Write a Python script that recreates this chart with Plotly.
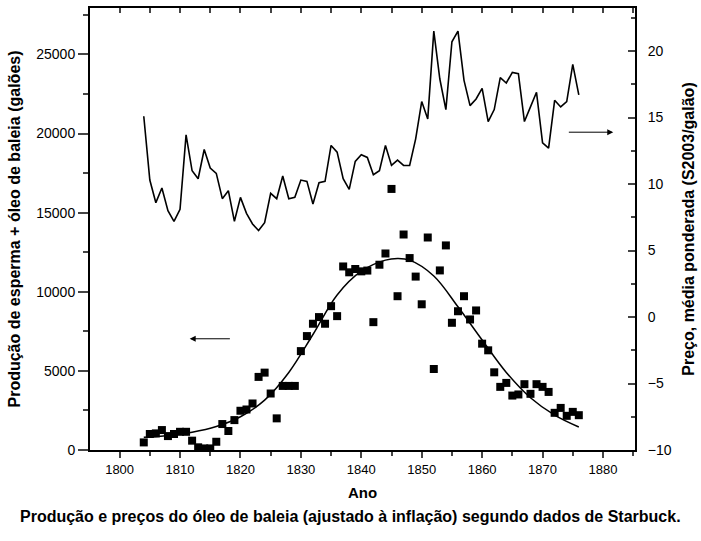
import plotly.graph_objects as go

years = list(range(1804, 1877))

production = [480, 1010, 1050, 1260, 880, 1010, 1150, 1150, 590, 170,
              100, 100, 520, 1640, 1200, 1890, 2480, 2560, 2940, 4620,
              4890, 3570, 2000, 4050, 4050, 4050, 6250, 7200, 7980, 8400,
              7980, 9090, 8460, 11600, 11230, 11440, 11290, 11340, 8080, 11710,
              12420, 16500, 9720, 13620, 12130, 10960, 9210, 13430, 5120, 11350,
              12930, 8040, 8770, 9720, 8250, 8820, 6720, 6300, 4910, 3990,
              4240, 3440, 3510, 4160, 3550, 4160, 3990, 3670, 2350, 2660,
              2160, 2410, 2200]

price = [15.1, 10.3, 8.6, 9.7, 8.0, 7.2, 8.1, 13.7, 11.0, 10.4,
         12.6, 11.2, 10.8, 8.9, 9.5, 7.2, 9.0, 7.8, 7.0, 6.5,
         7.1, 9.3, 8.9, 10.6, 8.9, 9.0, 10.3, 10.2, 8.5, 10.1,
         10.2, 12.9, 12.4, 10.4, 9.6, 11.7, 12.2, 12.0, 10.7, 11.0,
         12.9, 11.4, 11.8, 11.4, 11.4, 13.4, 16.2, 14.9, 21.5, 17.9,
         15.6, 20.7, 21.5, 17.8, 15.9, 16.4, 17.2, 14.7, 15.6, 18.0,
         17.6, 18.4, 18.3, 14.7, 15.8, 16.9, 13.1, 12.7, 16.3, 15.8,
         16.2, 19.0, 16.7]

fit_years = [1804, 1808, 1812, 1816, 1820, 1824, 1828, 1832, 1836, 1840,
             1844, 1846, 1848, 1852, 1856, 1860, 1864, 1868, 1872, 1876]
fit_values = [800, 920, 1120, 1480, 2100, 3150, 4900, 7300, 9800, 11300,
              12000, 12100, 12000, 11000, 9050, 6950, 4900, 3300, 2200, 1450]

x_tick_vals = [1800, 1810, 1820, 1830, 1840, 1850, 1860, 1870, 1880]
y_left_ticks = [0, 5000, 10000, 15000, 20000, 25000]
y_left_labels = ["0", "5000", "10000", "15000", "20000", "25000"]
y_right_ticks = [-10, -5, 0, 5, 10, 15, 20]

FONT = "Arial"
fig = go.Figure()

fig.add_trace(go.Scatter(x=fit_years, y=fit_values, mode="lines",
                         line=dict(color="black", width=1.5, shape="spline", smoothing=1.0),
                         xaxis="x", yaxis="y", showlegend=False))
fig.add_trace(go.Scatter(x=years, y=production, mode="markers",
                         marker=dict(symbol="square", size=8, color="black"),
                         xaxis="x", yaxis="y", showlegend=False))
fig.add_trace(go.Scatter(x=years, y=price, mode="lines",
                         line=dict(color="black", width=1.6),
                         xaxis="x", yaxis="y2", showlegend=False))
# invisible trace to make the top tick axis render
fig.add_trace(go.Scatter(x=[years[0]], y=[production[0]], mode="markers",
                         marker=dict(opacity=0), xaxis="x2", yaxis="y",
                         showlegend=False, hoverinfo="skip"))

xr = [1795.1, 1885.3]
fig.update_layout(
    width=701, height=541,
    margin=dict(l=90, r=66, t=6, b=91),
    paper_bgcolor="white", plot_bgcolor="white",
    font=dict(family=FONT, size=13, color="black"),
    xaxis=dict(range=xr, tickvals=x_tick_vals, ticks="outside", ticklen=6, tickwidth=1.5,
               showline=True, linewidth=2, linecolor="black", mirror=True,
               showgrid=False, zeroline=False,
               minor=dict(dtick=5, tick0=1800, ticks="outside", ticklen=4, tickwidth=1.5, showgrid=False),
               tickfont=dict(family=FONT, size=13),
               title=dict(text="Ano", font=dict(family=FONT, size=15, weight="bold"), standoff=12)),
    xaxis2=dict(range=xr, overlaying="x", side="top", anchor="y", dtick=5, tick0=1800,
                ticks="inside", ticklen=5, tickwidth=1.5, showticklabels=False,
                showgrid=False, zeroline=False, showline=False),
    yaxis=dict(range=[0, 27935], tickvals=y_left_ticks, ticktext=y_left_labels,
               ticks="outside", ticklen=10, tickwidth=1.5,
               showline=True, linewidth=2, linecolor="black",
               showgrid=False, zeroline=False,
               minor=dict(dtick=2500, tick0=0, ticks="outside", ticklen=5, tickwidth=1.5, showgrid=False),
               tickfont=dict(family=FONT, size=14),
               title=dict(text="Produção de esperma + óleo de baleia (galões)",
                          font=dict(family=FONT, size=16, weight="bold"), standoff=12)),
    yaxis2=dict(range=[-10, 23.24], tickvals=y_right_ticks, overlaying="y", side="right", anchor="x",
                ticks="inside", ticklen=7, tickwidth=1.5,
                showline=True, linewidth=2, linecolor="black",
                showgrid=False, zeroline=False,
                minor=dict(dtick=2.5, tick0=0, ticks="inside", ticklen=4, tickwidth=1.5, showgrid=False),
                tickfont=dict(family=FONT, size=14), ticklabelstandoff=8,
                title=dict(text="Preço, média ponderada (S2003/galão)",
                           font=dict(family=FONT, size=16, weight="bold"), standoff=12)),
    annotations=[
        dict(x=1811.6, y=7030, xref="x", yref="y", ax=1818.5, ay=7030, axref="x", ayref="y",
             showarrow=True, arrowhead=2, arrowsize=1.2, arrowwidth=1, arrowcolor="black", text=""),
        dict(x=1881.7, y=13.9, xref="x", yref="y2", ax=1874.1, ay=13.9, axref="x", ayref="y2",
             showarrow=True, arrowhead=2, arrowsize=1.2, arrowwidth=1, arrowcolor="black", text=""),
        dict(text="Produção e preços do óleo de baleia (ajustado à inflação) segundo dados de Starbuck.",
             x=0.478, y=-0.151, xref="paper", yref="paper", xanchor="center", yanchor="middle",
             showarrow=False, font=dict(family=FONT, size=16, weight="bold")),
    ],
)

fig.write_html("out.html")
